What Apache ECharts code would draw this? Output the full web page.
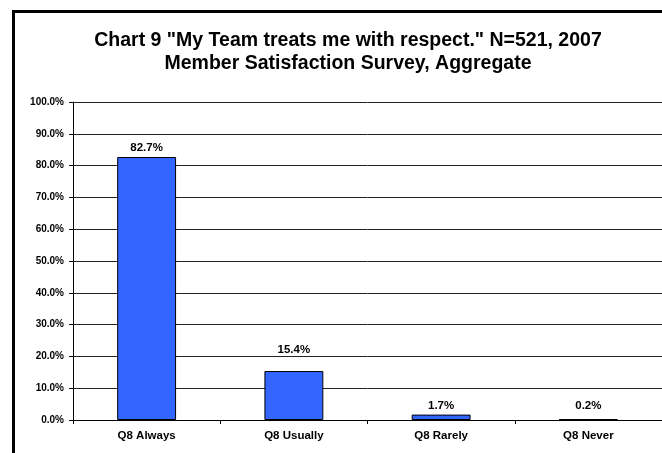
<!DOCTYPE html>
<html>
<head>
<meta charset="utf-8">
<script src="https://cdn.jsdelivr.net/npm/echarts@6/dist/echarts.min.js"></script>
<style>
  html, body { margin: 0; padding: 0; background: #fff; }
  #chart { width: 662px; height: 453px; }
</style>
</head>
<body>
<div id="chart"></div>
<script>
const titleLines = ['Chart 9 "My Team treats me with respect." N=521, 2007', 'Member Satisfaction Survey, Aggregate']
const categories = ['Q8 Always', 'Q8 Usually', 'Q8 Rarely', 'Q8 Never']
const percents = [82.7, 15.4, 1.7, 0.2]

// the labels in the original sit at slightly different heights above the bars
const labelGap = [3, 15, 3, 7]

const chart = echarts.init(document.getElementById('chart'))

const font = 'Liberation Sans, Arial, sans-serif'

const option = {
  backgroundColor: '#fff',
  animation: false,
  title: {
    text: titleLines.join('\n'),
    left: 343,
    top: 24,
    textAlign: 'center',
    textStyle: {
      fontFamily: font,
      fontWeight: 'bold',
      fontSize: 19.5,
      lineHeight: 23,
      color: '#000'
    }
  },
  graphic: [
    {
      type: 'polyline',
      shape: { points: [[13.5, 453], [13.5, 11.5], [662, 11.5]] },
      style: { stroke: '#000', lineWidth: 3, fill: null }
    }
  ],
  grid: {
    left: 73,
    right: -1,
    top: 102,
    bottom: 33,
    containLabel: false
  },
  xAxis: {
    type: 'category',
    data: categories,
    axisLine: { lineStyle: { color: '#000', width: 1 } },
    axisTick: { show: true, length: 4, lineStyle: { color: '#000' } },
    axisLabel: {
      margin: 10,
      fontFamily: font,
      fontWeight: 'bold',
      fontSize: 11.5,
      color: '#000'
    }
  },
  yAxis: {
    type: 'value',
    min: 0,
    max: 100,
    interval: 10,
    axisLine: { show: true, lineStyle: { color: '#000', width: 1 } },
    axisTick: { show: true, length: 4, lineStyle: { color: '#000' } },
    splitLine: { show: true, lineStyle: { color: '#222', width: 1 } },
    axisLabel: {
      margin: 9,
      formatter: v => v.toFixed(1) + '%',
      fontFamily: font,
      fontWeight: 'bold',
      fontSize: 10,
      color: '#000'
    }
  },
  series: [
    {
      type: 'bar',
      data: percents.map((v, i) => ({ value: v, label: { distance: labelGap[i] } })),
      barWidth: '40%',
      itemStyle: {
        color: '#3366FF',
        borderColor: '#000',
        borderWidth: 1
      },
      label: {
        show: true,
        position: 'top',
        formatter: p => p.value.toFixed(1) + '%',
        fontFamily: font,
        fontWeight: 'bold',
        fontSize: 11.5,
        color: '#000'
      }
    }
  ]
}

chart.setOption(option)
</script>
</body>
</html>
